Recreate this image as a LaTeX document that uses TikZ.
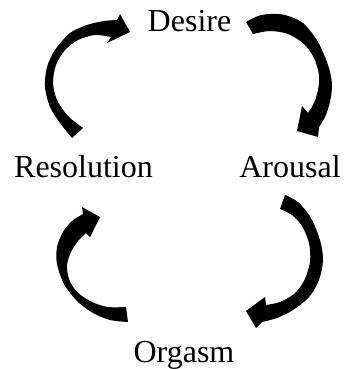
\documentclass[tikz,border=0pt]{standalone}
\usepackage{fontspec}
\setmainfont{Liberation Serif}
\begin{document}
\begin{tikzpicture}[x=1pt,y=-1pt,
  lbl/.style={anchor=base,inner sep=0pt,font=\fontsize{32}{38}\selectfont},
  blockarrow/.style={fill=black,draw=none}]
\useasboundingbox (0,0) rectangle (343,369);
\node[lbl] (desire) at (189.5,32) {Desire};
\node[lbl] (resolution) at (83.5,177) {Resolution};
\node[lbl] (arousal) at (290,177) {Arousal};
\node[lbl] (orgasm) at (184,362) {Orgasm};
% Resolution -> Desire
\fill[blockarrow] plot[smooth] coordinates {(72,138) (60,123) (50,107) (45,87) (47,67) (55,50) (70,33) (87,25) (104,21) (117,20)}
  -- (120,14) -- (130,32) -- (107,43) --
  plot[smooth] coordinates {(111,37) (95,35) (78,40) (65,50) (56,65) (53,83) (57,100) (68,116) (83,128)} -- cycle;
% Desire -> Arousal
\fill[blockarrow] plot[smooth] coordinates {(246,22) (258,16) (270,14) (285,15) (303,23) (318,42) (328,65) (332,84) (330,102) (325,117) (319,127)}
  -- (318,137) -- (297,131) -- (302,106) --
  plot[smooth] coordinates {(308,113) (314,103) (318,90) (319,75) (314,58) (304,44) (288,34) (270,31) (253,34)} -- cycle;
% Arousal -> Orgasm
\fill[blockarrow] plot[smooth] coordinates {(285,195) (298,202) (311,218) (320,240) (323,260) (319,280) (309,297) (293,310) (277,318) (262,322)}
  -- (256,328) -- (246,311) -- (265,297) --
  plot[smooth] coordinates {(266,305) (280,302) (294,294) (304,281) (310,262) (309,243) (302,226) (292,215) (280,209)} -- cycle;
% Orgasm -> Resolution
\fill[blockarrow] plot[smooth] coordinates {(128,322) (110,320) (93,313) (77,301) (64,284) (57,264) (57,247) (63,232) (72,221) (83,214)}
  -- (82,207) -- (100,217) -- (90,237) --
  plot[smooth] coordinates {(86,233) (78,241) (71,252) (67,265) (69,279) (77,292) (92,302) (108,307) (126,307)} -- cycle;
\end{tikzpicture}
\end{document}
